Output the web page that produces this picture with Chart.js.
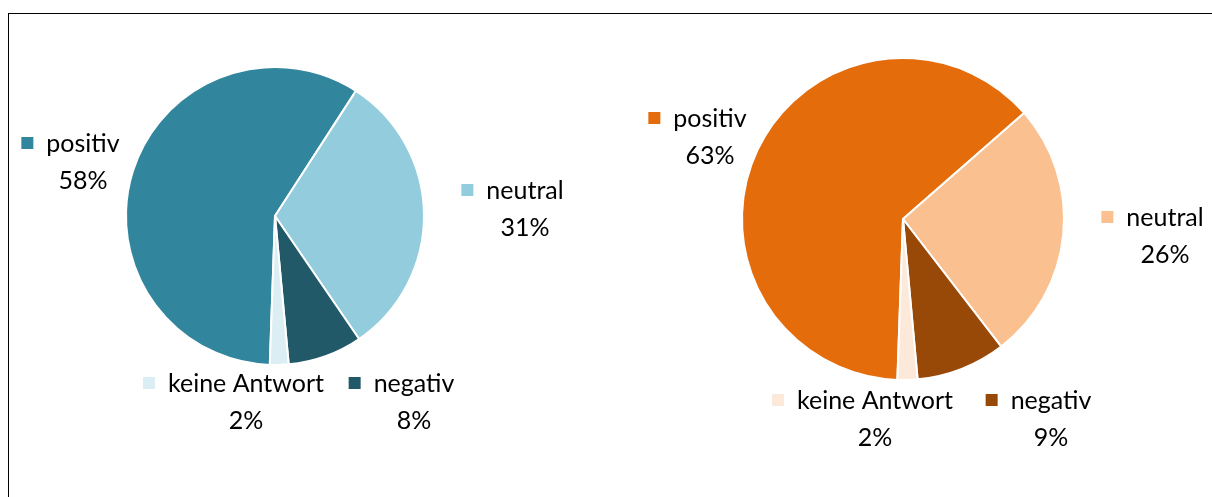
<!DOCTYPE html>
<html>
<head>
<meta charset="utf-8">
<script src="https://cdn.jsdelivr.net/npm/chart.js@4.4.1/dist/chart.umd.min.js"></script>
<style>
  html, body { margin: 0; padding: 0; background: #fff; }
  body { width: 1212px; height: 497px; position: relative; overflow: hidden; }
  #frame { position: absolute; left: 8px; top: 13px; width: 1300px; height: 600px;
           border-top: 1px solid #000; border-left: 1px solid #000; }
  .box { position: absolute; top: 0; width: 606px; height: 497px; }
  #boxL { left: 0; }
  #boxR { left: 606px; }
</style>
</head>
<body>
<div id="frame"></div>
<div class="box" id="boxL"><canvas id="pieL"></canvas></div>
<div class="box" id="boxR"><canvas id="pieR"></canvas></div>
<script>
// ---- data ----
const categories = ["positiv", "neutral", "negativ", "keine Antwort"];
const valuesLeft = [58, 31, 8, 2];
const valuesRight = [63, 26, 9, 2];
const colorsLeft = ["#31859C", "#93CDDD", "#215968", "#DAEEF3"];
const colorsRight = ["#E46C0A", "#FAC090", "#984807", "#FDE9D9"];

// ---- layout (label anchors relative to pie centre, px; order = categories) ----
const labelOffsetsLeft = [[-192, -73], [250, -26], [139, 167], [-29, 167]];
const labelOffsetsRight = [[-193, -101], [262, -2], [148, 181], [-28, 181]];

const FONT = '25px Futura, "Century Gothic", Lato, sans-serif';

const labelPlugin = {
  id: 'sliceLabels',
  afterDatasetsDraw(chart, args, opts) {
    const ctx = chart.ctx;
    const meta = chart.getDatasetMeta(0);
    const data = chart.data.datasets[0].data;
    const colors = chart.data.datasets[0].backgroundColor;
    const cx = meta.data[0].x, cy = meta.data[0].y;
    ctx.save();
    ctx.font = FONT;
    ctx.textBaseline = 'middle';
    ctx.textAlign = 'center';
    data.forEach((v, i) => {
      const [dx, dy] = opts.offsets[i];
      const x = cx + dx, y = cy + dy;
      const name = chart.data.labels[i];
      const w = ctx.measureText(name).width;
      ctx.fillStyle = colors[i];
      ctx.fillRect(x - w / 2 - 25, y - 6, 12, 12);
      ctx.fillStyle = '#000';
      ctx.fillText(name, x, y + 1);
      ctx.fillText(v + '%', x, y + 38);
    });
    ctx.restore();
  }
};

function makePie(id, values, colors, radius, padding, offsets) {
  return new Chart(document.getElementById(id), {
    type: 'pie',
    data: {
      labels: categories,
      datasets: [{
        data: values,
        backgroundColor: colors,
        borderColor: '#ffffff',
        borderWidth: 2
      }]
    },
    options: {
      responsive: true,
      maintainAspectRatio: false,
      animation: false,
      rotation: 182,
      radius: radius,
      layout: { padding: padding },
      plugins: {
        legend: { display: false },
        tooltip: { enabled: false },
        sliceLabels: { offsets: offsets }
      }
    },
    plugins: [labelPlugin]
  });
}

makePie('pieL', valuesLeft, colorsLeft, 149,
  { top: 67, bottom: 132, left: 126, right: 182 }, labelOffsetsLeft);
makePie('pieR', valuesRight, colorsRight, 161,
  { top: 58, bottom: 117, left: 136, right: 148 }, labelOffsetsRight);
</script>
</body>
</html>
